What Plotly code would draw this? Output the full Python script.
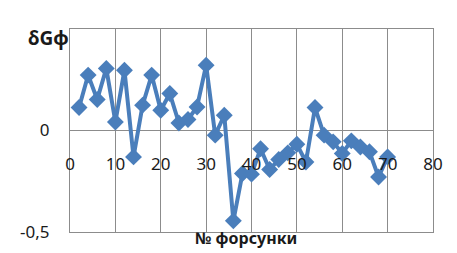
import plotly.graph_objects as go

injector = [2, 4, 6, 8, 10, 12, 14, 16, 18, 20, 22, 24, 26, 28, 30, 32, 34, 36,
            38, 40, 42, 44, 46, 48, 50, 52, 54, 56, 58, 60, 62, 64, 66, 68, 70]
delta_g = [0.113, 0.273, 0.153, 0.306, 0.042, 0.297, -0.13, 0.125, 0.273, 0.10,
           0.182, 0.037, 0.054, 0.116, 0.322, -0.023, 0.075, -0.445, -0.212, -0.215,
           -0.09, -0.192, -0.143, -0.11, -0.068, -0.155, 0.113, -0.023, -0.056, -0.113,
           -0.051, -0.081, -0.105, -0.229, -0.13]
x_ticks = [0, 10, 20, 30, 40, 50, 60, 70, 80]
y_tickvals = [-0.5, 0, 0.5]
y_ticktext = ["-0,5", "0", ""]

blue = "#4a7ebb"
grid = "#8c8c8c"
font = "Noto Sans, Lato, sans-serif"

# the page body has an 8px default margin, so offsets compensate for it
off = 8
fig = go.Figure()
fig.add_trace(go.Scatter(
    x=injector, y=delta_g, mode="lines+markers",
    line=dict(color=blue, width=4),
    marker=dict(symbol="diamond", size=13, color=blue),
    xaxis="x", yaxis="y", showlegend=False,
))
fig.add_trace(go.Scatter(x=[0, 80], y=[0, 0], mode="markers",
                         marker=dict(opacity=0), xaxis="x2", yaxis="y",
                         showlegend=False, hoverinfo="skip"))

fig.update_layout(
    width=457, height=253,
    margin=dict(l=64.5 - off, r=24.3 + off, t=29 - off, b=21.3 + off),
    paper_bgcolor="white", plot_bgcolor="white",
    font=dict(family=font, color="#1a1a1a", size=17),
    xaxis=dict(range=[0, 80], tickvals=x_ticks, showticklabels=False,
               showgrid=True, gridcolor=grid, gridwidth=1,
               showline=True, linecolor=grid, linewidth=1, mirror=True,
               zeroline=False, ticks=""),
    xaxis2=dict(range=[0, 80], tickvals=x_ticks, overlaying="x",
                anchor="free", position=0.5, side="bottom",
                showgrid=False, showline=False, zeroline=False, ticks="",
                ticklabelstandoff=21,
                tickfont=dict(family=font, size=17, color="#1a1a1a")),
    yaxis=dict(range=[-0.5, 0.5], tickvals=y_tickvals, ticktext=y_ticktext,
               showgrid=True, gridcolor=grid, gridwidth=1,
               showline=True, linecolor=grid, linewidth=1, mirror=True,
               zeroline=False, ticks="", ticklabelstandoff=16,
               tickfont=dict(family=font, size=17, color="#1a1a1a")),
    annotations=[
        dict(text="<b>δGф</b>", xref="paper", yref="paper", x=-0.06, y=0.955,
             xanchor="center", yanchor="middle", showarrow=False,
             font=dict(family=font, size=19, color="#1a1a1a")),
        dict(text="<b>№ форсунки</b>", xref="paper", yref="paper", x=0.485, y=-0.03,
             xanchor="center", yanchor="middle", showarrow=False,
             font=dict(family=font, size=16, color="#1a1a1a")),
    ],
)

fig.write_html("out.html")
